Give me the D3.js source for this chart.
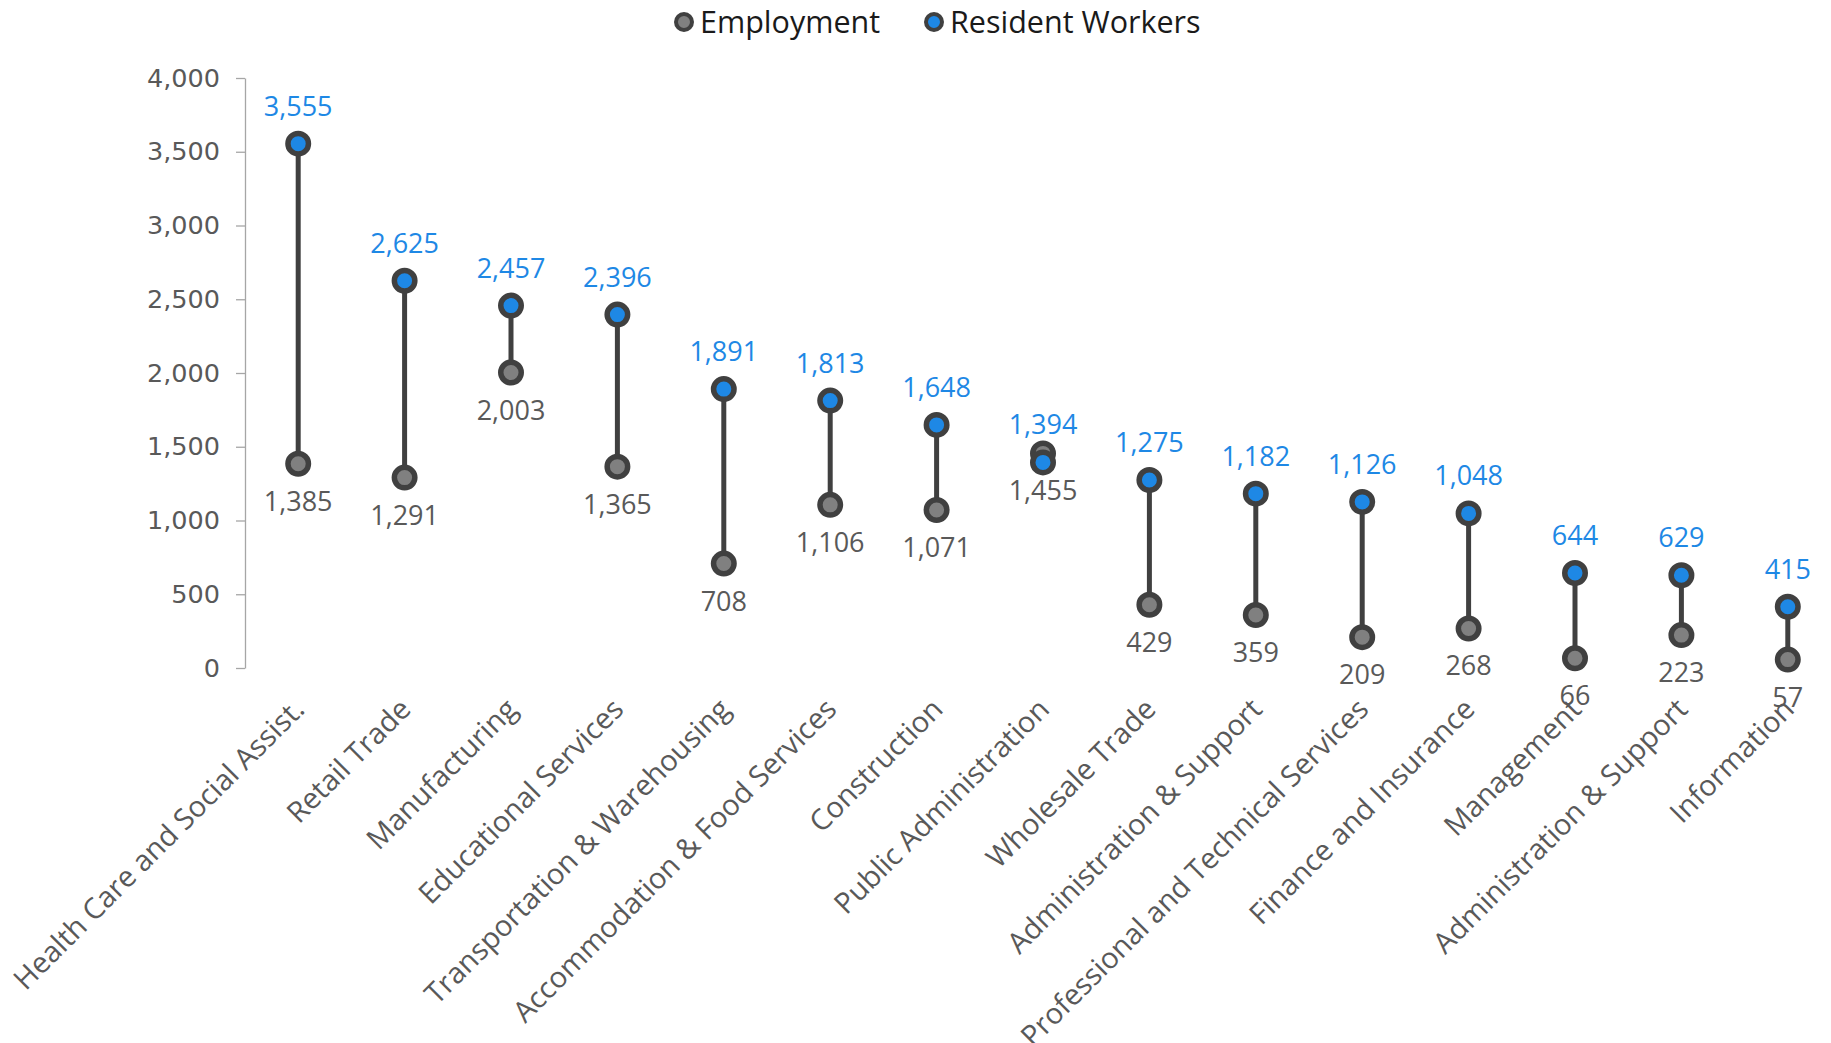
<!DOCTYPE html>
<html>
<head>
<meta charset="utf-8">
<script src="https://cdn.jsdelivr.net/npm/d3@7"></script>
<style>
  body { margin: 0; background: #fff; }
  svg { display: block; }
</style>
</head>
<body>
<div id="chart"></div>
<script>
const categories = [
  "Health Care and Social Assist.",
  "Retail Trade",
  "Manufacturing",
  "Educational Services",
  "Transportation & Warehousing",
  "Accommodation & Food Services",
  "Construction",
  "Public Administration",
  "Wholesale Trade",
  "Administration & Support",
  "Professional and Technical Services",
  "Finance and Insurance",
  "Management",
  "Administration & Support",
  "Information",
];
const employment = [1385, 1291, 2003, 1365, 708, 1106, 1071, 1455, 429, 359, 209, 268, 66, 223, 57];
const residentWorkers = [3555, 2625, 2457, 2396, 1891, 1813, 1648, 1394, 1275, 1182, 1126, 1048, 644, 629, 415];
const yTicks = [0, 500, 1000, 1500, 2000, 2500, 3000, 3500, 4000];

const W = 1831, H = 1043;
const PLOT = { left: 245, right: 1841, top: 78, bottom: 668 };
const COLORS = {
  employment: "#808080",
  resident: "#1E88E5",
  stroke: "#404040",
  text: "#595959",
  axis: "#A6A6A6",
};

const svg = d3.select("#chart").append("svg").attr("width", W).attr("height", H);

const x = d3.scaleBand().domain(d3.range(categories.length)).range([PLOT.left, PLOT.right]);
const y = d3.scaleLinear().domain([0, 4000]).range([PLOT.bottom, PLOT.top]);
const cx = (i) => x(i) + x.bandwidth() / 2;
const fmt = d3.format(",");

// y axis
const yAxis = svg.append("g")
  .attr("transform", `translate(${PLOT.left},0)`)
  .call(d3.axisLeft(y).tickValues(yTicks).tickFormat(fmt).tickSize(9).tickPadding(16).tickSizeOuter(0));
yAxis.select(".domain").attr("stroke", COLORS.axis).attr("stroke-width", 1.3);
yAxis.selectAll(".tick line").attr("stroke", COLORS.axis).attr("stroke-width", 1.3);
yAxis.selectAll(".tick text")
  .attr("fill", COLORS.text)
  .style("font-family", "'DejaVu Sans', sans-serif")
  .style("font-size", "25.5px");

// category labels
svg.append("g").selectAll("text")
  .data(categories)
  .enter()
  .append("text")
  .attr("transform", (d, i) => `translate(${cx(i) + 8},711) rotate(-45)`)
  .attr("text-anchor", "end")
  .attr("fill", COLORS.text)
  .style("font-family", "'Open Sans', sans-serif")
  .style("font-size", "29px")
  .text((d) => d);

const rows = categories.map((c, i) => ({ i, emp: employment[i], res: residentWorkers[i] }));

// connectors
svg.append("g").selectAll("line")
  .data(rows)
  .enter()
  .append("line")
  .attr("x1", (d) => cx(d.i))
  .attr("x2", (d) => cx(d.i))
  .attr("y1", (d) => y(d.emp))
  .attr("y2", (d) => y(d.res))
  .attr("stroke", COLORS.stroke)
  .attr("stroke-width", 5);

// employment dots
svg.append("g").selectAll("circle")
  .data(rows)
  .enter()
  .append("circle")
  .attr("cx", (d) => cx(d.i))
  .attr("cy", (d) => y(d.emp))
  .attr("r", 10.25)
  .attr("fill", COLORS.employment)
  .attr("stroke", COLORS.stroke)
  .attr("stroke-width", 5.5);

// resident dots
svg.append("g").selectAll("circle")
  .data(rows)
  .enter()
  .append("circle")
  .attr("cx", (d) => cx(d.i))
  .attr("cy", (d) => y(d.res))
  .attr("r", 10.25)
  .attr("fill", COLORS.resident)
  .attr("stroke", COLORS.stroke)
  .attr("stroke-width", 5.5);

// labels
const labelFont = (sel) => sel
  .attr("text-anchor", "middle")
  .style("font-family", "'Open Sans', sans-serif")
  .style("font-size", "27px");

svg.append("g").selectAll("text")
  .data(rows)
  .enter()
  .append("text")
  .attr("x", (d) => cx(d.i))
  .attr("y", (d) => y(d.res) - 28)
  .attr("fill", COLORS.resident)
  .call(labelFont)
  .text((d) => fmt(d.res));

svg.append("g").selectAll("text")
  .data(rows)
  .enter()
  .append("text")
  .attr("x", (d) => cx(d.i))
  .attr("y", (d) => y(d.emp) + 47)
  .attr("fill", COLORS.text)
  .call(labelFont)
  .text((d) => fmt(d.emp));

// legend
const legendItems = [
  { name: "Employment", fill: COLORS.employment, x: 684 },
  { name: "Resident Workers", fill: COLORS.resident, x: 934 },
];
const legend = svg.append("g").selectAll("g")
  .data(legendItems)
  .enter()
  .append("g")
  .attr("transform", (d) => `translate(${d.x},22)`);
legend.append("circle")
  .attr("r", 8)
  .attr("fill", (d) => d.fill)
  .attr("stroke", COLORS.stroke)
  .attr("stroke-width", 4);
legend.append("text")
  .attr("x", 16)
  .attr("y", 11)
  .attr("fill", "#1a1a1a")
  .style("font-family", "'Open Sans', sans-serif")
  .style("font-size", "30.5px")
  .text((d) => d.name);
</script>
</body>
</html>
